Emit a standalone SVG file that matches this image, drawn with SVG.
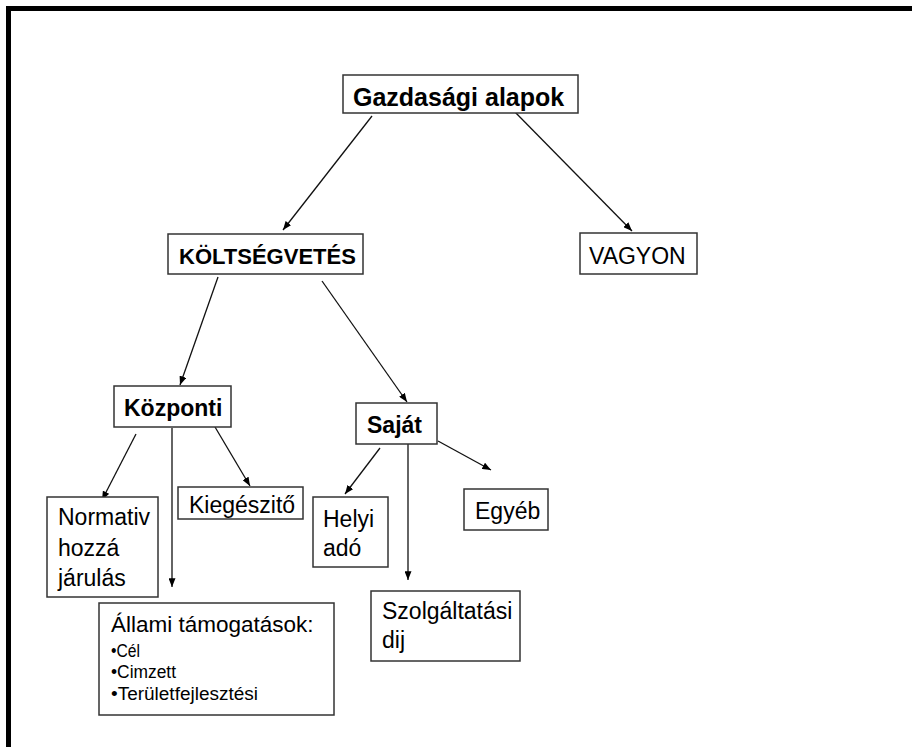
<svg xmlns="http://www.w3.org/2000/svg" width="912" height="747" viewBox="0 0 912 747">
<defs>
<marker id="ah" viewBox="0 0 10 8" refX="10" refY="4" markerWidth="9" markerHeight="7" markerUnits="userSpaceOnUse" orient="auto">
<path d="M0,0 L10,4 L0,8 Z" fill="#000"/>
</marker>
<style>
.box{fill:#fff;stroke:#333;stroke-width:1.5}
.t{font-family:"Liberation Sans",Arial,sans-serif;fill:#000}
.b{font-weight:bold}
.edge{stroke:#111;stroke-width:1.3;fill:none;marker-end:url(#ah)}
</style>
</defs>
<rect width="912" height="747" fill="#fff"/>
<path d="M8.5,747 V8.5 H912" fill="none" stroke="#000" stroke-width="5"/>
<g id="edges">
<line class="edge" x1="372" y1="116" x2="283" y2="230"/>
<line class="edge" x1="512" y1="109" x2="632" y2="231"/>
<line class="edge" x1="218" y1="277" x2="180" y2="385"/>
<line class="edge" x1="322" y1="281" x2="407" y2="402"/>
<line class="edge" x1="136" y1="434" x2="102" y2="500"/>
<line class="edge" x1="172" y1="428" x2="172" y2="587"/>
<line class="edge" x1="215" y1="427" x2="250" y2="486"/>
<line class="edge" x1="380" y1="448" x2="345" y2="494"/>
<line class="edge" x1="408" y1="444" x2="408" y2="580"/>
<line class="edge" x1="438" y1="441" x2="491" y2="470"/>
</g>
<g id="gazdasagi">
<rect class="box" x="343" y="75" width="235" height="38"/>
<text class="t b" x="353" y="106" font-size="25">Gazdasági alapok</text>
</g>
<g id="koltsegvetes">
<rect class="box" x="168" y="234" width="195" height="40"/>
<text class="t b" x="179" y="264" font-size="22">KÖLTSÉGVETÉS</text>
</g>
<g id="vagyon">
<rect class="box" x="580" y="233" width="117" height="41"/>
<text class="t" x="589" y="264" font-size="23">VAGYON</text>
</g>
<g id="kozponti">
<rect class="box" x="114" y="386" width="117" height="41"/>
<text class="t b" x="124" y="416" font-size="23">Központi</text>
</g>
<g id="sajat">
<rect class="box" x="356" y="403" width="81" height="41"/>
<text class="t b" x="367" y="433" font-size="23">Saját</text>
</g>
<g id="normativ">
<rect class="box" x="47" y="497" width="111" height="100"/>
<text class="t" x="58" y="525" font-size="23">Normativ</text>
<text class="t" x="58" y="556" font-size="23">hozzá</text>
<text class="t" x="58" y="586" font-size="23">járulás</text>
</g>
<g id="kiegeszito">
<rect class="box" x="178" y="487" width="125" height="32"/>
<text class="t" x="189" y="513" font-size="23">Kiegészitő</text>
</g>
<g id="helyi">
<rect class="box" x="313" y="497" width="75" height="70"/>
<text class="t" x="323" y="527" font-size="23">Helyi</text>
<text class="t" x="323" y="556" font-size="23">adó</text>
</g>
<g id="egyeb">
<rect class="box" x="464" y="489" width="84" height="41"/>
<text class="t" x="475" y="519" font-size="23">Egyéb</text>
</g>
<g id="szolgaltatasi">
<rect class="box" x="371" y="591" width="149" height="70"/>
<text class="t" x="382" y="619" font-size="23">Szolgáltatási</text>
<text class="t" x="382" y="648" font-size="23">dij</text>
</g>
<g id="allami">
<rect class="box" x="99" y="603" width="235" height="112"/>
<text class="t" x="111" y="632" font-size="22.5">Állami támogatások:</text>
<text class="t" x="111" y="657" font-size="17.5" textLength="29" lengthAdjust="spacingAndGlyphs">•Cél</text>
<text class="t" x="111" y="678" font-size="17.5" textLength="65" lengthAdjust="spacingAndGlyphs">•Cimzett</text>
<text class="t" x="111" y="700" font-size="17.5" textLength="147" lengthAdjust="spacingAndGlyphs">•Területfejlesztési</text>
</g>
</svg>
